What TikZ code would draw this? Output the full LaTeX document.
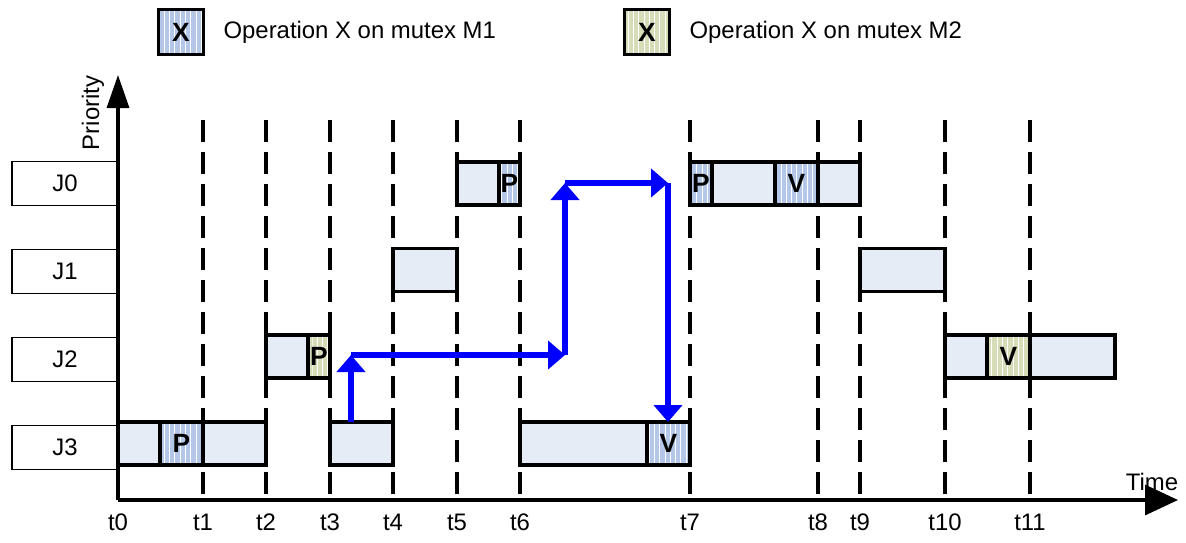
\documentclass[tikz,border=0pt]{standalone}
\usepackage{fontspec}
\setmainfont{Liberation Sans}
\usepackage{tikz}
\usetikzlibrary{arrows.meta, patterns, positioning}
\definecolor{taskfill}{RGB}{230,236,246}
\definecolor{mone}{RGB}{180,199,231}
\definecolor{mtwo}{RGB}{214,220,184}

\begin{document}
\begin{tikzpicture}[x=0.02cm, y=-0.02cm, font=\fontsize{13.6pt}{16pt}\selectfont,
    slot/.style={draw, line width=2pt, minimum height=0.86cm, inner sep=0pt},
    task/.style={slot, fill=taskfill},
    lockone/.style={slot, preaction={fill=mone}, pattern=vertical lines, pattern color=white, font=\fontsize{15pt}{16pt}\selectfont\bfseries},
    locktwo/.style={slot, preaction={fill=mtwo}, pattern=vertical lines, pattern color=white, font=\fontsize{15pt}{16pt}\selectfont\bfseries},
    joblabel/.style={draw, line width=0.8pt, fill=white, minimum width=2.12cm, minimum height=0.88cm},
    timeline/.style={line width=2.4pt, dash pattern=on 0.44cm off 0.2cm},
    axis/.style={line width=1.9pt},
    flow/.style={blue, line width=3.3pt, -{Triangle[width=0.56cm, length=0.34cm]}}]
    \useasboundingbox (0,0) rectangle (1186,542);

    % legend
    \node[lockone, minimum width=0.9cm, minimum height=0.9cm] (keyone) at (181,32) {X};
    \node[inner sep=0pt, right=0.36cm of keyone] (keyonetext) {Operation X on mutex M1};
    \node[locktwo, minimum width=0.9cm, minimum height=0.9cm] (keytwo) at (647,32) {X};
    \node[inner sep=0pt, right=0.36cm of keytwo] (keytwotext) {Operation X on mutex M2};

    % time marks
    \node (t0) at (118,522) {t0};
    \foreach \x [count=\i] in {203,266,330,393,457,520,690,818,860,945,1030} {
        \draw[timeline] (\x,120) -- (\x,500);
        \node (t\i) at (\x,522) {t\i};
    }

    % jobs
    \node[joblabel] (j0) at (65,183.5) {J0};
    \node[joblabel, below=0.853cm of j0] (j1) {J1};
    \node[joblabel, below=0.853cm of j1] (j2) {J2};
    \node[joblabel, below=0.853cm of j2] (j3) {J3};

    % J3
    \node[task, minimum width=2.96cm] (j3a) at (192,443.5) {};
    \node[lockone, minimum width=0.86cm] (j3p) at (181.5,443.5) {P};
    \node[task, minimum width=1.26cm] (j3b) at (361.5,443.5) {};
    \node[task, minimum width=3.4cm] (j3c) at (605,443.5) {};
    \node[lockone, minimum width=0.86cm] (j3v) at (668.5,443.5) {V};
    % J2
    \node[task, minimum width=1.28cm] (j2a) at (298,356.5) {};
    \node[locktwo, minimum width=0.44cm] (j2p) at (319,356.5) {P};
    \node[task, minimum width=3.4cm] (j2b) at (1030,356.5) {};
    \node[locktwo, minimum width=0.86cm] (j2v) at (1008.5,356.5) {V};
    % J1
    \node[task, minimum width=1.28cm] (j1a) at (425,270) {};
    \node[task, minimum width=1.7cm] (j1b) at (902.5,270) {};
    % J0
    \node[task, minimum width=1.26cm] (j0a) at (488.5,183.5) {};
    \node[lockone, minimum width=0.42cm] (j0p) at (509.5,183.5) {P};
    \node[task, minimum width=3.4cm] (j0b) at (775,183.5) {};
    \node[lockone, minimum width=0.44cm] (j0q) at (701,183.5) {P};
    \node[lockone, minimum width=0.86cm] (j0v) at (796.5,183.5) {V};

    % inheritance path
    \coordinate (f0) at (351,422);
    \coordinate (f1) at (351,355);
    \coordinate (f2) at (565,355);
    \coordinate (f3) at (565,183);
    \coordinate (f4) at (668,183);
    \coordinate (f5) at (668,422);
    \draw[flow] (f0) -- (f1);
    \draw[flow] (f1) -- (f2);
    \draw[flow] (f2) -- (f3);
    \draw[flow] (f3) -- (f4);
    \draw[flow] (f4) -- (f5);

    % axes
    \coordinate (origin) at (118,500);
    \coordinate (ytop) at (118,75);
    \coordinate (xend) at (1178,500);
    \draw[axis, -{Triangle[width=0.44cm, length=0.66cm]}] (origin) -- (ytop);
    \draw[axis, -{Triangle[width=0.6cm, length=0.66cm]}] (origin) -- (xend);
    \node[rotate=90] (prio) at (93,113) {Priority};
    \node (timelbl) at (1152,482) {Time};
\end{tikzpicture}
\end{document}
